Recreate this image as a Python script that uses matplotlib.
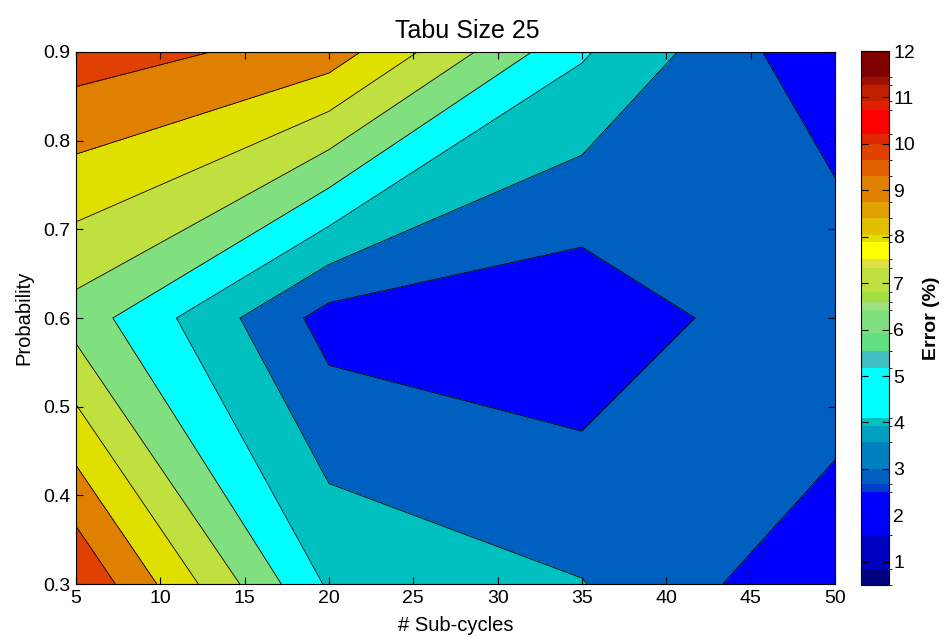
import numpy as np
import matplotlib
matplotlib.use('Agg')
import matplotlib.pyplot as plt
from matplotlib.colors import ListedColormap, BoundaryNorm
import matplotlib.colorbar as mcolorbar

plt.rcParams['font.family'] = ['Liberation Sans', 'DejaVu Sans']

# ---- data ----
sub_cycles = [5, 20, 35, 50]
probability = [0.3, 0.6, 0.9]
error_p03 = [9.95, 3.85, 3.04, 1.17]
error_p06 = [5.58, 1.60, 1.23, 2.95]
error_p09 = [9.51, 8.55, 4.12, 1.15]
levels = [1, 2, 3, 4, 5, 6, 7, 8, 9, 10]
fill_colors = ['#0000ff', '#0060c0', '#00c0c0', '#00ffff', '#80e080',
               '#c0e040', '#e0e000', '#e08000', '#e04000']

# colorbar segments
cbar_bounds = [0.5, 0.84, 1.57, 2.5, 2.67, 3.0, 3.57, 3.93, 4.1, 5.18, 5.54,
               5.93, 6.42, 6.6, 6.81, 7.33, 7.53, 7.89, 8.04, 8.4, 8.75, 9.3,
               9.66, 10.0, 10.21, 10.73, 10.93, 11.27, 11.45, 12.0]
cbar_colors = ['#000080', '#0000c0', '#0000ff', '#0040c8', '#0060c0', '#0080c0',
               '#00a0c0', '#00c0c0', '#00ffff', '#40c0c0', '#60e080', '#80e080',
               '#a0e080', '#a0e040', '#c0e040', '#e0e040', '#ffff00', '#e0e000',
               '#e0c000', '#e0a000', '#e08000', '#e06000', '#e04000', '#e02800',
               '#ff0000', '#e02000', '#c02000', '#a01000', '#800000']
cbar_ticks = [1, 2, 3, 4, 5, 6, 7, 8, 9, 10, 11, 12]

X, Y = np.meshgrid(sub_cycles, probability)
Z = np.array([error_p03, error_p06, error_p09])

fig = plt.figure(figsize=(9.45, 6.41), dpi=100)
ax = fig.add_axes([0.0804, 0.0889, 0.8032, 0.830])
ax.contourf(X, Y, Z, levels=levels, colors=fill_colors)
ax.contour(X, Y, Z, levels=levels, colors='k', linewidths=0.6)
ax.set_xlim(5, 50)
ax.set_ylim(0.3, 0.9)
ax.set_xticks(list(range(5, 55, 5)))
ax.set_yticks([0.3, 0.4, 0.5, 0.6, 0.7, 0.8, 0.9])
ax.set_yticklabels(['0.3', '0.4', '0.5', '0.6', '0.7', '0.8', '0.9'])
ax.tick_params(direction='in', top=True, right=True, length=5, labelsize=14, pad=4)
for s in ax.spines.values():
    s.set_linewidth(0.8)
ax.set_xlabel('# Sub-cycles', fontsize=14.5, labelpad=7)
ax.set_ylabel('Probability', fontsize=14.5, labelpad=7)
ax.set_title('Tabu Size 25', fontsize=18, pad=10, x=0.515)

cax = fig.add_axes([0.9111, 0.0874, 0.0296, 0.833])
cmap = ListedColormap(cbar_colors)
norm = BoundaryNorm(cbar_bounds, cmap.N)
cb = mcolorbar.ColorbarBase(cax, cmap=cmap, norm=norm, boundaries=cbar_bounds,
                            ticks=cbar_ticks, spacing='proportional')
cb.outline.set_linewidth(0.8)
cax.tick_params(direction='in', left=True, right=True, length=5, labelsize=14, pad=3)
cax.set_yticklabels([str(t) for t in cbar_ticks])
cb.set_label('Error (%)', fontsize=14, fontweight='bold', labelpad=6)

fig.savefig('out.png', dpi=100)
